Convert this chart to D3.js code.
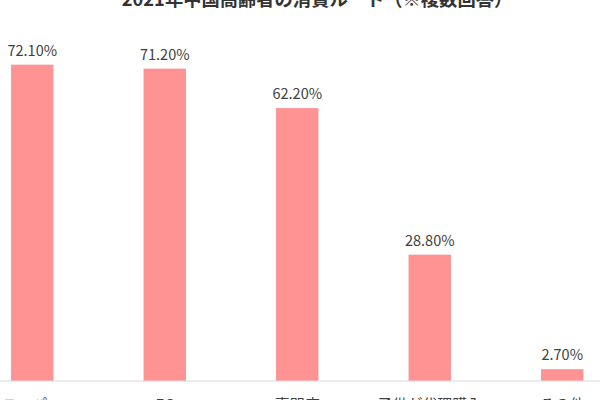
<!DOCTYPE html>
<html>
<head>
<meta charset="utf-8">
<script src="https://cdn.jsdelivr.net/npm/d3@7"></script>
<style>
  body { margin: 0; background: #fff; }
  text { font-family: "Noto Sans CJK JP", "Noto Sans", sans-serif; }
</style>
</head>
<body>
<div class="vis-barchart"></div>
<script>
const categories = ['スーパー', 'EC', '専門店', '子供が代理購入', 'その他'];
const shares = [72.1, 71.2, 62.2, 28.8, 2.7];
const title = '2021年中国高齢者の消費ルート（※複数回答）';

const width = 600, height = 400;
const baseline = 381;

const svg = d3.select('.vis-barchart').append('svg')
    .attr('width', width)
    .attr('height', height);

const x = d3.scaleBand()
    .domain(categories)
    .range([-34, 628.5])
    .paddingInner(0.68)
    .paddingOuter(0.34);

const y = d3.scaleLinear()
    .domain([0, 80])
    .range([baseline, baseline - 351]);

const data = categories.map((c, i) => ({ name: c, value: shares[i] }));

// title (cropped at the top in the reference)
svg.append('text')
    .attr('x', 317)
    .attr('y', 6)
    .attr('text-anchor', 'middle')
    .attr('font-size', 18.3)
    .attr('font-weight', 'bold')
    .attr('fill', '#333')
    .text(title);

svg.selectAll('.bar')
    .data(data)
    .enter().append('rect')
    .attr('class', 'bar')
    .attr('x', d => x(d.name))
    .attr('width', x.bandwidth())
    .attr('y', d => y(d.value))
    .attr('height', d => baseline - y(d.value))
    .attr('fill', '#ff9393');

svg.selectAll('.val')
    .data(data)
    .enter().append('text')
    .attr('class', 'val')
    .attr('x', d => x(d.name) + x.bandwidth() / 2)
    .attr('y', d => y(d.value) - 9)
    .attr('text-anchor', 'middle')
    .attr('font-size', 14.5)
    .attr('fill', '#404040')
    .text(d => d.value.toFixed(2) + '%');

const axis = svg.append('g')
    .attr('transform', 'translate(0,' + baseline + ')')
    .call(d3.axisBottom(x).tickSize(0).tickPadding(18));
axis.select('.domain').remove();
axis.append('line')
    .attr('x1', 0).attr('x2', width)
    .attr('stroke', '#d9d9d9')
    .attr('stroke-width', 1.2);
axis.selectAll('.tick text')
    .attr('font-size', 15)
    .attr('fill', '#404040')
    .attr('font-family', '"Noto Sans CJK JP", sans-serif');
</script>
</body>
</html>
